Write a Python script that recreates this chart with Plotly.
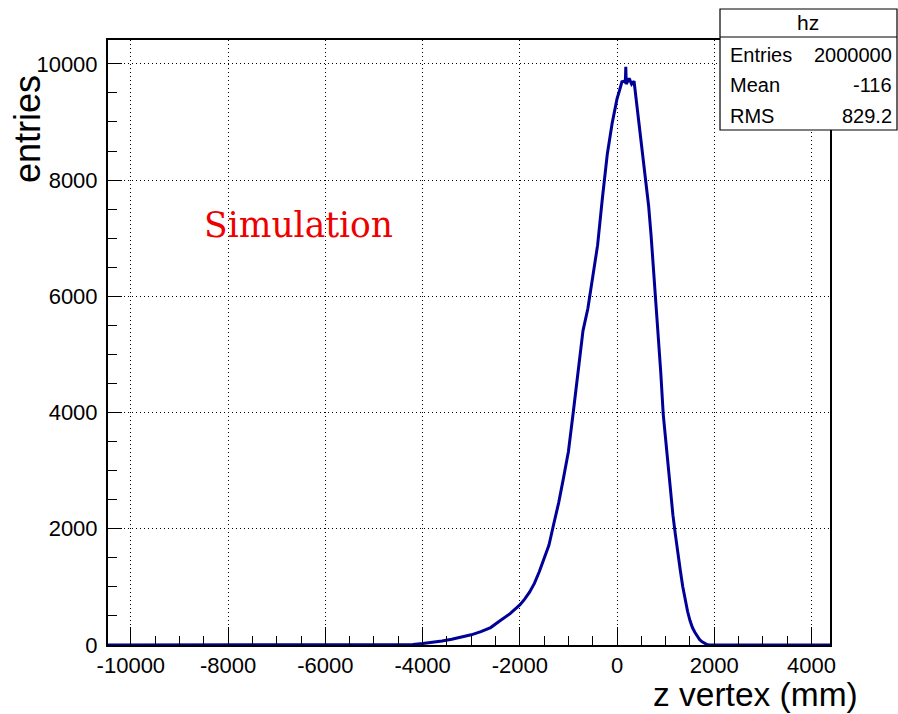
import plotly.graph_objects as go

# ---- data (bin centre in mm, entries) ----
z_vertex = [-10470, -4500, -4200, -4000, -3800, -3600, -3400, -3200, -3000, -2800,
            -2600, -2400, -2200, -2000, -1900, -1800, -1700, -1600, -1500, -1400,
            -1300, -1200, -1100, -1000, -900, -800, -700, -600, -500, -400,
            -300, -200, -100, -50, 0, 50, 100, 150, 170, 180, 190, 250, 300,
            350, 400, 450, 500, 550, 600, 650, 700, 750, 800, 850, 900, 950,
            1000, 1050, 1100, 1150, 1200, 1250, 1300, 1350, 1400, 1450, 1500,
            1550, 1600, 1650, 1700, 1750, 1800, 1850, 1900, 4380]
entries = [0, 0, 8, 25, 45, 70, 100, 135, 175, 230,
           300, 420, 540, 690, 790, 910, 1060, 1260, 1490, 1720,
           2090, 2450, 2880, 3330, 4010, 4760, 5410, 5790, 6350, 6880,
           7700, 8450, 8980, 9210, 9400, 9540, 9690, 9700, 9680, 9950, 9650, 9750, 9650,
           9700, 9350, 9050, 8650, 8250, 7900, 7550, 7050, 6480, 5930, 5400, 4680, 3970,
           3500, 3120, 2580, 2230, 1900, 1560, 1290, 1010, 780, 580, 420,
           300, 220, 150, 90, 55, 25, 8, 0, 0]

x_ticks = [-10000, -8000, -6000, -4000, -2000, 0, 2000, 4000]
y_ticks = [0, 2000, 4000, 6000, 8000, 10000]

stats_title = "hz"
stats_labels = ["Entries", "Mean", "RMS"]
stats_values = ["2000000", "-116", "829.2"]

W, H = 898, 714
L, R, T, B = 108, 830, 40, 645


def px(xp):
    return (xp - L) / (R - L)


def py(yp):
    return (B - yp) / (B - T)


FONT = "Liberation Sans, Arial, sans-serif"

fig = go.Figure()
fig.add_trace(go.Scatter(x=z_vertex, y=entries, mode="lines",
                         line=dict(color="#000099", width=3),
                         hoverinfo="skip", showlegend=False))

axis_common = dict(showline=True, linecolor="black", linewidth=2, mirror=True,
                   showgrid=True, gridcolor="black", gridwidth=1, griddash="1px,3px",
                   zeroline=False, ticks="inside", tickcolor="black", tickwidth=1,
                   tickfont=dict(family=FONT, size=22, color="black"))

fig.update_xaxes(range=[-10470, 4380], tickvals=x_ticks,
                 ticktext=[str(v) for v in x_ticks], ticklen=18,
                 minor=dict(ticks="inside", ticklen=9, dtick=500, tick0=0,
                            tickcolor="black", showgrid=False),
                 ticklabelstandoff=0,
                 **axis_common)
fig.update_yaxes(range=[0, 10410], tickvals=y_ticks,
                 ticktext=[str(v) for v in y_ticks], ticklen=14,
                 minor=dict(ticks="inside", ticklen=9, dtick=500, tick0=0,
                            tickcolor="black", showgrid=False),
                 ticklabelstandoff=4,
                 **axis_common)

ann = []
ann.append(dict(text="z vertex (mm)", x=px(859), y=py(714), xref="paper", yref="paper",
                xanchor="right", yanchor="bottom", showarrow=False, borderpad=0,
                font=dict(family=FONT, size=33.5, color="black")))
ann.append(dict(text="entries", x=px(27), y=py(73), xref="paper", yref="paper",
                xanchor="center", yanchor="top", textangle=-90, showarrow=False,
                font=dict(family=FONT, size=36, color="black")))
ann.append(dict(text="Simulation", x=px(298), y=py(225), xref="paper", yref="paper",
                xanchor="center", yanchor="middle", showarrow=False,
                font=dict(family="DejaVu Serif, serif", size=34.5, color="#ee0000")))

# stats box
ann.append(dict(text=stats_title, x=px(808), y=py(23), xref="paper", yref="paper",
                xanchor="center", yanchor="middle", showarrow=False,
                font=dict(family=FONT, size=21, color="black")))
row_y = [55, 85, 116]
for lab, val, yy in zip(stats_labels, stats_values, row_y):
    ann.append(dict(text=lab, x=px(728), y=py(yy), xref="paper", yref="paper",
                    xanchor="left", yanchor="middle", showarrow=False,
                    font=dict(family=FONT, size=20, color="black")))
    ann.append(dict(text=val, x=px(894), y=py(yy), xref="paper", yref="paper",
                    xanchor="right", yanchor="middle", showarrow=False,
                    font=dict(family=FONT, size=20, color="black")))

shapes = [
    dict(type="rect", xref="paper", yref="paper", x0=px(720), x1=px(897),
         y0=py(130), y1=py(9), line=dict(color="black", width=1.2),
         fillcolor="white", layer="above"),
    dict(type="line", xref="paper", yref="paper", x0=px(720), x1=px(897),
         y0=py(37), y1=py(37), line=dict(color="black", width=1.2), layer="above"),
]

fig.update_layout(width=W, height=H, autosize=False,
                  margin=dict(l=L, r=W - R, t=T, b=H - B),
                  paper_bgcolor="white", plot_bgcolor="white",
                  annotations=ann, shapes=shapes)

fig.write_html("out.html", config={"displayModeBar": False},
               post_script="document.body.style.margin='0';document.body.style.overflow='hidden';")
